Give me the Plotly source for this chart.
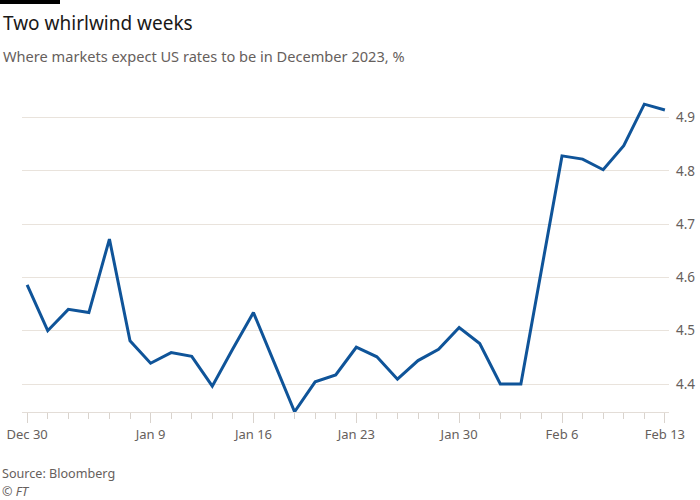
import plotly.graph_objects as go

dates = ["Dec 30", "Jan 2", "Jan 3", "Jan 4", "Jan 5", "Jan 6",
         "Jan 9", "Jan 10", "Jan 11", "Jan 12", "Jan 13",
         "Jan 16", "Jan 17", "Jan 18", "Jan 19", "Jan 20",
         "Jan 23", "Jan 24", "Jan 25", "Jan 26", "Jan 27",
         "Jan 30", "Jan 31", "Feb 1", "Feb 2", "Feb 3",
         "Feb 6", "Feb 7", "Feb 8", "Feb 9", "Feb 10",
         "Feb 13"]
rates = [4.586, 4.500, 4.540, 4.534, 4.672, 4.481,
         4.439, 4.459, 4.452, 4.396, 4.466,
         4.534, 4.441, 4.348, 4.404, 4.417,
         4.469, 4.451, 4.409, 4.444, 4.465,
         4.506, 4.476, 4.400, 4.400, 4.614,
         4.828, 4.822, 4.802, 4.847, 4.925,
         4.914]
tick_labels = ["Dec 30", "Jan 9", "Jan 16", "Jan 23", "Jan 30", "Feb 6", "Feb 13"]
y_ticks = [4.4, 4.5, 4.6, 4.7, 4.8, 4.9]

x_idx = list(range(len(dates)))
tick_pos = [dates.index(t) for t in tick_labels]

W, H = 700, 500
ML, MR, MT, MB = 22, 31, 90, 88
PW, PH = W - ML - MR, H - MT - MB

def px(x):
    return (x - ML) / PW

def py(y):
    return (H - MB - y) / PH

FONT = "Noto Sans"
GREY = "#66605c"
GRID = "#e9e3dc"

fig = go.Figure()
fig.add_trace(go.Scatter(
    x=x_idx, y=rates, mode="lines",
    line=dict(color="#0f5499", width=3),
    hoverinfo="skip", showlegend=False,
))

fig.update_layout(
    width=W, height=H,
    margin=dict(l=ML, r=MR, t=MT, b=MB, autoexpand=False),
    paper_bgcolor="white", plot_bgcolor="white",
    font=dict(family=FONT, color=GREY, size=13),
    xaxis=dict(
        range=[-0.25, 31.2], tickmode="array", tickvals=tick_pos,
        ticktext=tick_labels, ticks="outside", ticklen=10, tickwidth=1,
        tickcolor="#d9d3cd", showgrid=False, zeroline=False,
        showline=True, linecolor="#e3ddd7", linewidth=1,
        automargin=False,
        tickfont=dict(size=13, color=GREY, family=FONT),
        minor=dict(dtick=1, tick0=0, ticks="outside", ticklen=6,
                   tickcolor="#d9d3cd", showgrid=False),
    ),
    yaxis=dict(
        range=[4.3475, 4.9516], side="right", tickmode="array",
        tickvals=y_ticks, ticktext=[f"{v:.1f}" for v in y_ticks],
        showgrid=True, gridcolor=GRID, gridwidth=1, zeroline=False,
        ticks="", ticklabelstandoff=6, automargin=False,
        tickfont=dict(size=13.5, color=GREY, family=FONT),
    ),
    shapes=[dict(type="rect", xref="paper", yref="paper",
                 x0=px(0), x1=px(60), y0=py(4), y1=py(0),
                 fillcolor="black", line=dict(width=0))],
    annotations=[
        dict(text="Two whirlwind weeks", xref="paper", yref="paper",
             x=px(1), y=py(23), xanchor="left", yanchor="middle",
             showarrow=False, font=dict(size=19, color="#1a1817", family=FONT)),
        dict(text="Where markets expect US rates to be in December 2023, %",
             xref="paper", yref="paper", x=px(1), y=py(56),
             xanchor="left", yanchor="middle", showarrow=False,
             font=dict(size=14.6, color=GREY, family=FONT)),
        dict(text="Source: Bloomberg", xref="paper", yref="paper",
             x=px(0), y=py(473), xanchor="left", yanchor="middle",
             showarrow=False, font=dict(size=12.6, color=GREY, family=FONT)),
        dict(text="<i>© FT</i>", xref="paper", yref="paper",
             x=px(0), y=py(491), xanchor="left", yanchor="middle",
             showarrow=False, font=dict(size=12.6, color=GREY, family=FONT)),
    ],
)

fig.write_html("out.html", config={"displayModeBar": False},
               post_script="document.body.style.margin='0';document.body.style.overflow='hidden';")
